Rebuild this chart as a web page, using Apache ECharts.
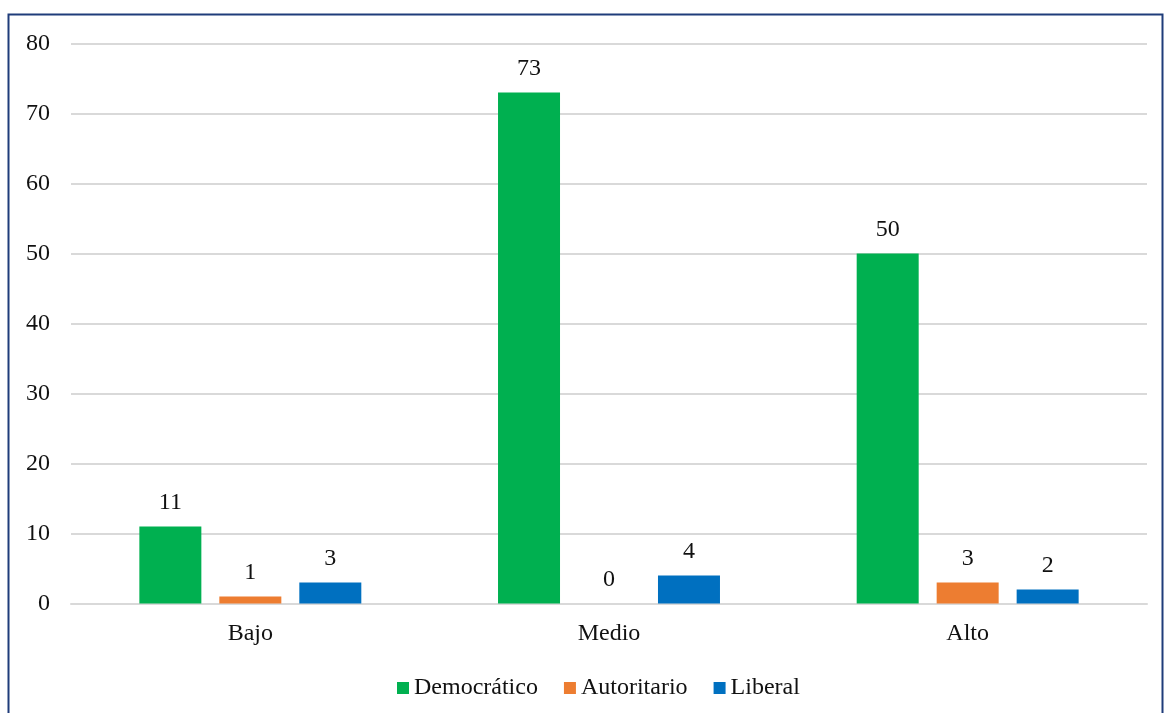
<!DOCTYPE html>
<html>
<head>
<meta charset="utf-8">
<script src="https://cdn.jsdelivr.net/npm/echarts@6/dist/echarts.min.js"></script>
<style>
  html, body { margin: 0; padding: 0; background: #fff; }
  #chart { width: 1164px; height: 713px; }
</style>
</head>
<body>
<div id="chart"></div>
<script>
// Nivel categories and counts per estilo
const categories = ['Bajo', 'Medio', 'Alto'];
const democratico = [11, 73, 50];
const autoritario = [1, 0, 3];
const liberal = [3, 4, 2];
const yTicks = { min: 0, max: 80, interval: 10 };

const font = '"Liberation Serif", "Times New Roman", serif';
const fontSize = 24;
const chart = echarts.init(document.getElementById('chart'));

function barSeries(name, data, color) {
  return {
    name: name,
    type: 'bar',
    data: data,
    barWidth: 62,
    barGap: '29%',
    itemStyle: { color: color },
    label: {
      show: true,
      position: 'top',
      distance: 12,
      color: '#111',
      fontFamily: font,
      fontSize: fontSize
    }
  };
}

chart.setOption({
  animation: false,
  textStyle: { fontFamily: font },
  graphic: [{
    type: 'rect',
    shape: { x: 8.5, y: 14.5, width: 1154, height: 720 },
    style: { fill: 'none', stroke: '#1F3C7A', lineWidth: 2 },
    silent: true
  }],
  grid: { left: 71, right: 17, top: 43.5, bottom: 109.5 },
  legend: {
    top: 671,
    left: 392,
    itemWidth: 12,
    itemHeight: 12,
    itemGap: 26,
    icon: 'rect',
    textStyle: { fontFamily: font, fontSize: fontSize, color: '#111' },
    data: ['Democrático', 'Autoritario', 'Liberal']
  },
  xAxis: {
    type: 'category',
    data: categories,
    axisTick: { show: false },
    axisLine: { lineStyle: { color: '#d9d9d9', width: 2 } },
    axisLabel: { color: '#111', fontFamily: font, fontSize: fontSize, margin: 18 }
  },
  yAxis: {
    type: 'value',
    min: yTicks.min,
    max: yTicks.max,
    interval: yTicks.interval,
    axisLine: { show: false },
    axisTick: { show: false },
    splitLine: { lineStyle: { color: '#d9d9d9', width: 2 } },
    axisLabel: { color: '#111', fontFamily: font, fontSize: fontSize, margin: 21 }
  },
  series: [
    barSeries('Democrático', democratico, '#00B050'),
    barSeries('Autoritario', autoritario, '#ED7D31'),
    barSeries('Liberal', liberal, '#0070C0')
  ]
});
</script>
</body>
</html>
